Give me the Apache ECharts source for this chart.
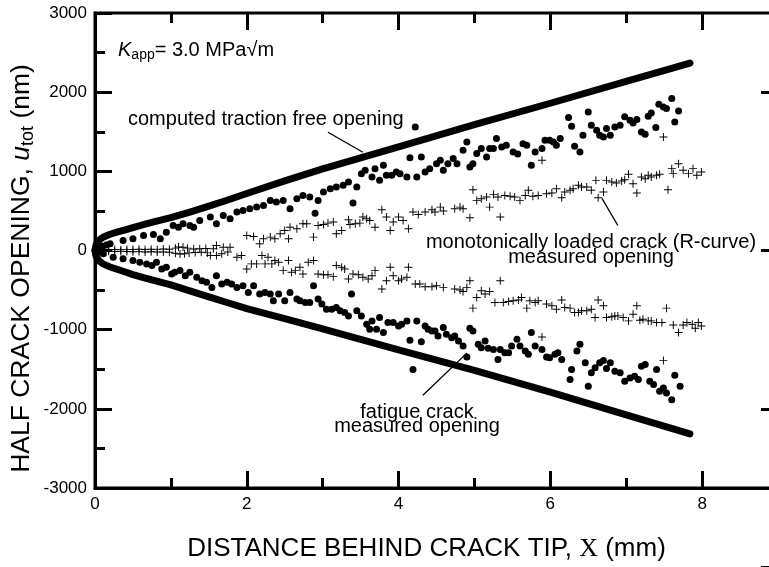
<!DOCTYPE html>
<html lang="en">
<head>
<meta charset="UTF-8">
<title>Half crack opening</title>
<script src="https://cdn.jsdelivr.net/npm/echarts@6/dist/echarts.min.js"></script>
<style>
  html, body { margin: 0; padding: 0; background: #fff; }
</style>
</head>
<body>
<div id="chartmain" style="width:769px;height:567px"></div>
<script>
// computed traction free opening (upper and lower branch), [x mm, u nm]
var tractionTop = [[0,0],[0.01,60],[0.03,100],[0.06,135],[0.1,165],[0.15,185],[0.2,205],[0.3,235],[0.4,262],[0.5,290],
    [0.65,330],[0.8,368],[1,415],[1.25,485],[1.5,560],[1.75,638],[2,720],[2.5,880],[3,1030],[4,1310],[5,1590],[6,1860],
    [7,2135],[7.84,2367]];
var tractionBottom = [[0,0],[0.01,-60],[0.03,-100],[0.06,-135],[0.1,-165],[0.15,-188],[0.2,-208],[0.3,-240],[0.4,-272],
    [0.5,-305],[0.65,-345],[0.8,-385],[1,-435],[1.25,-510],[1.5,-585],[1.75,-660],[2,-735],[2.5,-860],[3,-990],[4,-1255],
    [5,-1515],[6,-1790],[7,-2075],[7.84,-2316]];

// fatigue crack measured opening (dots)
var fatigueTop = [[0.05,30],[0.1,55],[0.15,70],[0.2,85],[0.37,127],[0.5,148],[0.64,190],[0.77,203],[0.86,148],[0.94,232],
    [1.03,316],[1.1,295],[1.16,338],[1.25,316],[1.3,295],[1.38,380],[1.52,422],[1.6,338],[1.69,443],[1.78,401],
    [1.87,485],[1.95,506],[2.04,527],[2.13,548],[2.22,570],[2.31,633],[2.39,612],[2.48,633],[2.57,527],[2.66,654],
    [2.74,696],[2.83,675],[2.9,472],[2.94,633],[3.01,738],[3.1,781],[3.18,802],[3.27,823],[3.34,865],[3.4,599],
    [3.45,802],[3.51,971],[3.56,1013],[3.65,928],[3.69,1034],[3.75,886],[3.8,1076],[3.84,950],[3.91,950],[3.97,991],
    [4.02,971],[4.11,928],[4.15,1173],[4.22,1561],[4.24,928],[4.3,1181],[4.35,991],[4.41,1034],[4.5,1097],[4.55,1139],
    [4.59,1013],[4.65,1097],[4.72,1161],[4.77,1097],[4.85,1266],[4.9,1371],[4.94,1055],[4.98,1097],[5.03,1224],[5.09,1287],
    [5.16,1181],[5.2,1287],[5.25,1287],[5.29,1414],[5.36,1308],[5.42,1329],[5.51,1245],[5.57,1220],[5.64,1350],[5.69,1329],
    [5.75,1076],[5.8,1245],[5.89,1287],[5.93,1393],[5.99,1393],[6.04,1371],[6.08,1329],[6.13,1414],[6.24,1680],[6.28,1570],
    [6.32,1317],[6.39,1245],[6.43,1456],[6.5,1751],[6.54,1583],[6.61,1519],[6.65,1456],[6.7,1434],[6.74,1540],[6.79,1456],
    [6.85,1561],[6.92,1583],[6.98,1688],[7.05,1646],[7.09,1612],[7.14,1655],[7.2,1498],[7.25,1469],[7.29,1696],[7.33,1738],
    [7.39,1553],[7.43,1848],[7.49,1814],[7.53,1793],[7.6,1920],[7.64,1624],[7.69,1763]];
var fatigueBottom = [[0.05,-20],[0.11,-42],[0.24,-85],[0.37,-105],[0.5,-127],[0.59,-148],[0.68,-169],[0.75,-190],[0.81,-148],
    [0.88,-233],[0.94,-212],[1.01,-296],[1.05,-275],[1.12,-254],[1.19,-318],[1.25,-275],[1.34,-339],[1.41,-381],[1.47,-402],
    [1.54,-466],[1.6,-318],[1.67,-423],[1.74,-402],[1.8,-423],[1.87,-466],[1.95,-445],[2.02,-530],[2.09,-445],[2.17,-550],
    [2.24,-530],[2.31,-550],[2.35,-635],[2.42,-550],[2.5,-635],[2.57,-530],[2.66,-614],[2.7,-635],[2.77,-656],[2.83,-656],
    [2.88,-445],[2.94,-614],[2.99,-677],[3.05,-741],[3.12,-741],[3.18,-720],[3.23,-762],[3.29,-783],[3.34,-826],[3.38,-550],
    [3.45,-762],[3.51,-826],[3.58,-931],[3.62,-995],[3.65,-889],[3.71,-995],[3.75,-847],[3.8,-1037],[3.86,-910],[3.93,-910],
    [4,-953],[4.04,-931],[4.11,-889],[4.15,-1134],[4.19,-1502],[4.24,-889],[4.3,-1152],[4.35,-953],[4.39,-995],[4.44,-1016],
    [4.48,-1016],[4.52,-1080],[4.59,-974],[4.63,-1058],[4.7,-1101],[4.74,-1080],[4.79,-1143],[4.85,-1207],[4.9,-1346],[4.94,-982],
    [4.98,-1016],[5.05,-1185],[5.09,-1228],[5.14,-1143],[5.18,-1236],[5.25,-1249],[5.31,-1376],[5.34,-1249],[5.4,-1291],[5.45,-1291],
    [5.49,-1207],[5.56,-1122],[5.6,-1207],[5.67,-1270],[5.71,-1312],[5.75,-1037],[5.8,-1207],[5.89,-1249],[5.95,-1346],[5.99,-1355],
    [6.06,-1312],[6.1,-1291],[6.15,-1376],[6.26,-1630],[6.28,-1502],[6.35,-1270],[6.39,-1185],[6.46,-1418],[6.5,-1714],[6.54,-1545],
    [6.59,-1482],[6.65,-1418],[6.7,-1388],[6.74,-1490],[6.79,-1418],[6.85,-1524],[6.92,-1545],[6.98,-1651],[7.05,-1609],[7.11,-1588],
    [7.16,-1630],[7.2,-1461],[7.25,-1439],[7.31,-1651],[7.36,-1693],[7.4,-1502],[7.44,-1778],[7.49,-1736],[7.53,-1799],[7.6,-1884],
    [7.64,-1575],[7.71,-1714]];

// monotonically loaded crack (R-curve) measured opening (crosses)
var monoTop = [[0.1,8],[0.18,10],[0.26,12],[0.34,10],[0.42,14],[0.5,12],[0.58,15],[0.66,12],[0.74,16],[0.82,14],[0.9,18],
    [0.98,15],[1.06,30],[1.1,45],[1.16,40],[1.22,30],[1.3,20],[1.38,22],[1.46,25],[1.56,21],[1.6,63],[1.69,42],[1.78,42],
    [2,190],[2.09,177],[2.17,85],[2.22,148],[2.31,169],[2.37,148],[2.44,211],[2.5,253],[2.55,148],[2.57,295],[2.66,274],
    [2.74,338],[2.79,338],[2.88,169],[2.94,316],[3.01,329],[3.07,346],[3.14,359],[3.18,211],[3.25,253],[3.34,388],[3.36,329],
    [3.43,338],[3.49,346],[3.53,422],[3.58,401],[3.62,380],[3.69,295],[3.78,515],[3.84,422],[3.89,253],[3.93,359],[4,422],
    [4.06,380],[4.13,274],[4.19,485],[4.26,456],[4.35,485],[4.44,515],[4.48,485],[4.55,548],[4.59,498],[4.74,527],[4.81,548],
    [4.85,527],[4.94,414],[4.98,768],[5.03,633],[5.09,654],[5.16,675],[5.2,548],[5.25,709],[5.31,675],[5.34,422],[5.4,696],
    [5.47,684],[5.53,675],[5.6,633],[5.67,696],[5.71,760],[5.77,684],[5.84,696],[5.89,1139],[5.95,717],[6.02,726],[6.08,781],
    [6.15,667],[6.19,738],[6.26,760],[6.3,781],[6.37,823],[6.41,802],[6.48,802],[6.54,760],[6.6,886],[6.63,667],[6.7,738],
    [6.74,886],[6.81,865],[6.87,852],[6.94,878],[6.98,895],[7.03,962],[7.09,844],[7.14,726],[7.2,928],[7.25,907],[7.29,950],
    [7.33,928],[7.4,950],[7.44,962],[7.49,1434],[7.55,768],[7.6,1034],[7.62,971],[7.69,1097],[7.75,1013],[7.82,971],[7.88,1034],
    [7.93,950],[7.99,991]];
var monoBottom = [[0.1,-8],[0.18,-10],[0.26,-12],[0.34,-14],[0.42,-12],[0.5,-15],[0.58,-14],[0.66,-18],[0.74,-16],[0.82,-20],
    [0.9,-18],[0.98,-22],[1.06,-35],[1.12,-45],[1.18,-40],[1.24,-30],[1.32,-25],[1.4,-22],[1.48,-30],[1.52,-64],[1.6,-64],
    [1.67,-42],[1.75,-20],[1.87,-85],[1.93,-64],[2,-233],[2.06,-169],[2.13,-169],[2.2,-64],[2.24,-169],[2.28,-85],[2.33,-169],
    [2.37,-127],[2.42,-148],[2.48,-254],[2.55,-127],[2.59,-275],[2.64,-254],[2.7,-212],[2.74,-296],[2.81,-148],[2.88,-127],
    [2.94,-296],[3.01,-305],[3.07,-305],[3.14,-330],[3.18,-190],[3.25,-212],[3.29,-233],[3.34,-360],[3.4,-296],[3.47,-305],
    [3.53,-339],[3.6,-360],[3.65,-318],[3.69,-254],[3.78,-487],[3.84,-381],[3.89,-212],[3.93,-318],[4,-381],[4.04,-360],
    [4.11,-339],[4.13,-212],[4.22,-423],[4.28,-423],[4.35,-457],[4.44,-457],[4.5,-445],[4.59,-466],[4.74,-487],[4.81,-499],
    [4.85,-517],[4.9,-466],[4.94,-381],[4.98,-728],[5.03,-593],[5.09,-508],[5.14,-550],[5.2,-517],[5.27,-656],[5.34,-381],
    [5.38,-656],[5.45,-644],[5.51,-635],[5.58,-626],[5.62,-593],[5.69,-728],[5.73,-635],[5.8,-656],[5.84,-635],[5.89,-1092],
    [5.95,-677],[6.02,-698],[6.08,-741],[6.15,-626],[6.19,-720],[6.26,-728],[6.32,-783],[6.37,-783],[6.41,-762],[6.48,-762],
    [6.54,-741],[6.59,-847],[6.63,-626],[6.7,-698],[6.74,-847],[6.81,-838],[6.85,-826],[6.89,-826],[6.96,-847],[7.03,-889],
    [7.09,-804],[7.14,-698],[7.18,-880],[7.22,-868],[7.29,-889],[7.33,-889],[7.4,-910],[7.47,-910],[7.49,-1388],[7.53,-728],
    [7.62,-940],[7.69,-1037],[7.75,-940],[7.8,-910],[7.87,-931],[7.91,-982],[7.95,-910],[7.99,-953]];

// ticks hanging from the top frame (x in mm)
var topMajorTicks = [2, 4, 6, 8];
var topMinorTicks = [1, 3, 5, 7];

// leader lines of the annotations, in data coordinates
var leaderTraction = [[3.07,1494],[3.53,1241]];
var leaderMono = [[6.68,658],[6.89,316]];
var leaderFatigue = [[4.32,-1829],[4.9,-1296]];

var FONT = '"Liberation Sans", Arial, Helvetica, sans-serif';
var CROSS = 'path://M4.4,0h1.2v4.4h4.4v1.2h-4.4v4.4h-1.2v-4.4h-4.4v-1.2h4.4z';
var NM_PER_PX = 6000 / 475;

function leader(pts) {
    return [[{coord: pts[0]}, {coord: pts[1]}]];
}
function topTicks(xs, lenPx) {
    return xs.map(function (x) {
        return [{coord: [x, 3000]}, {coord: [x, 3000 - lenPx * NM_PER_PX]}];
    });
}

function frameAxis(grid, min, max, interval, extra) {
    var ax = {
        type: 'value', gridIndex: grid, min: min, max: max, interval: interval,
        axisLine: {show: true, onZero: false, lineStyle: {color: '#000', width: 3}},
        axisTick: {show: true, inside: true, length: 17, lineStyle: {color: '#000', width: 3}},
        minorTick: {show: true, splitNumber: 2, length: 10, lineStyle: {color: '#000', width: 3}},
        splitLine: {show: false},
        axisLabel: {show: false}
    };
    return Object.assign(ax, extra);
}

var option = {
    backgroundColor: '#fff',
    animation: false,
    grid: [
        // main plot
        {left: 95, right: -9, top: 13, bottom: 79, containLabel: false, outerBoundsMode: 'none',
            show: true, borderColor: '#000', borderWidth: 3, backgroundColor: 'transparent'},
        // strip right of the plot (1000 nm = 79.17 px): its left axis carries the right frame ticks
        {left: 778, width: 10, top: -66.2, height: 633.4, containLabel: false, outerBoundsMode: 'none'}
    ],
    xAxis: [
        frameAxis(0, 0, 9, 2, {
            position: 'bottom',
            name: 'DISTANCE BEHIND CRACK TIP, {x|X} (mm)',
            nameLocation: 'middle',
            nameGap: 48,
            nameMoveOverlap: false,
            nameTextStyle: {
                color: '#000', fontFamily: FONT, fontSize: 26, padding: [0, 20, 0, 0],
                rich: {x: {fontFamily: '"Liberation Serif", "DejaVu Serif", serif', fontSize: 26, color: '#000'}}
            },
            axisLabel: {show: true, color: '#000', fontFamily: FONT, fontSize: 17, margin: 8, showMaxLabel: false}
        }),
        {type: 'value', gridIndex: 1, show: false, min: 0, max: 1}
    ],
    yAxis: [
        frameAxis(0, -3000, 3000, 1000, {
            position: 'left',
            name: 'HALF CRACK OPENING, {u|u}{s|tot} (nm)',
            nameLocation: 'middle',
            nameGap: 58,
            nameMoveOverlap: false,
            nameTextStyle: {
                color: '#000', fontFamily: FONT, fontSize: 26.5, lineHeight: 30, padding: [0, 36, 0, 0],
                rich: {
                    u: {fontFamily: FONT, fontSize: 26.5, fontStyle: 'italic', color: '#000', lineHeight: 30},
                    s: {fontFamily: FONT, fontSize: 18, color: '#000', lineHeight: 18, verticalAlign: 'bottom'}
                }
            },
            axisLabel: {show: true, color: '#000', fontFamily: FONT, fontSize: 17, margin: 8,
                formatter: function (v) { return String(v); }}
        }),
        frameAxis(1, -4000, 4000, 2000, {position: 'left',
            axisTick: {show: true, inside: false, length: 17, lineStyle: {color: '#000', width: 3}},
            minorTick: {show: true, splitNumber: 2, length: 9, lineStyle: {color: '#000', width: 3}}})
    ],
    series: [
        {
            name: 'computed traction free opening',
            type: 'line', data: tractionTop, symbol: 'none', smooth: false,
            lineStyle: {color: '#000', width: 7, cap: 'round', join: 'round'}, z: 3,
            markLine: {
                silent: true, symbol: 'none', label: {show: false},
                lineStyle: {color: '#000', width: 1.3, type: 'solid'},
                data: leader(leaderTraction).concat(leader(leaderMono), leader(leaderFatigue))
            }
        },
        {
            name: 'computed traction free opening (lower)',
            type: 'line', data: tractionBottom, symbol: 'none', smooth: false,
            lineStyle: {color: '#000', width: 7, cap: 'round', join: 'round'}, z: 3,
            // top frame ticks
            markLine: {
                silent: true, symbol: 'none', label: {show: false},
                lineStyle: {color: '#000', width: 3, type: 'solid', cap: 'butt'},
                data: topTicks(topMajorTicks, 17).concat(topTicks(topMinorTicks, 10))
            }
        },
        {name: 'fatigue crack', type: 'scatter', data: fatigueTop, symbol: 'circle', symbolSize: 7,
            itemStyle: {color: '#000', opacity: 1}},
        {name: 'fatigue crack (lower)', type: 'scatter', data: fatigueBottom, symbol: 'circle', symbolSize: 7,
            itemStyle: {color: '#000', opacity: 1}},
        {name: 'monotonically loaded crack', type: 'scatter', data: monoTop, symbol: CROSS, symbolSize: 8,
            itemStyle: {color: '#000', opacity: 1}},
        {name: 'monotonically loaded crack (lower)', type: 'scatter', data: monoBottom, symbol: CROSS, symbolSize: 8,
            itemStyle: {color: '#000', opacity: 1}}
    ],
    graphic: [
        {
            type: 'text', x: 118, y: 50,
            style: {
                text: '{k|K}{s|app}{n|= 3.0 MPa√m}', verticalAlign: 'middle',
                rich: {
                    k: {fontFamily: FONT, fontSize: 20, fontStyle: 'italic', fill: '#000', lineHeight: 24},
                    s: {fontFamily: FONT, fontSize: 14, fill: '#000', lineHeight: 14, verticalAlign: 'bottom'},
                    n: {fontFamily: FONT, fontSize: 20, fill: '#000', lineHeight: 24}
                }
            }
        },
        {
            type: 'text', x: 128, y: 119,
            style: {text: 'computed traction free opening', font: '20px ' + FONT, fill: '#000', verticalAlign: 'middle'}
        },
        {
            type: 'text', x: 591, y: 250,
            style: {text: 'monotonically loaded crack (R-curve)\nmeasured opening', font: '20px ' + FONT, fill: '#000',
                align: 'center', verticalAlign: 'middle', lineHeight: 15}
        },
        {
            type: 'text', x: 417, y: 419,
            style: {text: 'fatigue crack\nmeasured opening', font: '20px ' + FONT, fill: '#000',
                align: 'center', verticalAlign: 'middle', lineHeight: 14}
        }
    ]
};

var myChart = echarts.init(document.getElementById('chartmain'), null, {renderer: 'canvas'});
myChart.setOption(option);
</script>
</body>
</html>
